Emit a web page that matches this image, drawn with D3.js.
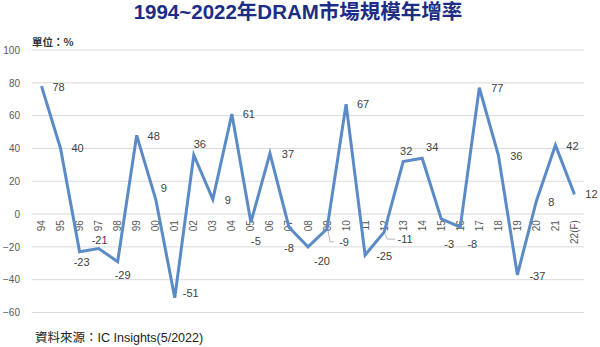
<!DOCTYPE html>
<html><head><meta charset="utf-8">
<script src="https://cdn.jsdelivr.net/npm/d3@7"></script>
<style>
html,body{margin:0;padding:0;background:#fff;}
svg{display:block;}
</style></head>
<body>
<svg id="c" width="600" height="347"></svg>
<script>
const years = ["94","95","96","97","98","99","00","01","02","03","04","05","06","07","08","09","10","11","12","13","14","15","16","17","18","19","20","21","22(F)"];
const growth = [78,40,-23,-21,-29,48,9,-51,36,9,61,-5,37,-8,-20,-9,67,-25,-11,32,34,-3,-8,77,36,-37,8,42,12];
const yTicks = [100,80,60,40,20,0,-20,-40,-60];
const titleText = "1994~2022年DRAM市場規模年增率";
const unitText = "單位：%";
const sourceText = "資料來源：IC Insights(5/2022)";
// label placement offsets (dx, dy) relative to the point, layout only
const labelOffsets = [[17,1],[17,0],[2,10],[1,-8],[5,14],[17,1],[8,-11],[16,-5],[6,-11],[15,1],[17,0],[5,19],[18,1],[0,21],[14,14],[17,13],[17,0],[19,1],[21,7],[3,-10],[10,-11],[8,25],[12,17],[18,0],[18,1],[20,1],[15,1],[17,1],[17,0]];
const leaders = {15:true, 18:true};

const svg = d3.select("#c");
const x = d3.scaleBand().domain(years).range([32,584]);
const y = d3.scaleLinear().domain([-60,100]).range([312.5,50]);
const cx = d => x(d) + x.bandwidth()/2;

// title
svg.append("text").attr("x",298).attr("y",19).attr("text-anchor","middle")
  .attr("font-family","'Liberation Sans','Noto Sans CJK TC',sans-serif").attr("font-weight","bold")
  .attr("font-size",20.5).attr("fill","#1c2d86").text(titleText);
svg.append("text").attr("x",32).attr("y",46)
  .attr("font-family","'Noto Sans CJK TC',sans-serif").attr("font-weight","bold")
  .attr("font-size",10.5).attr("fill","#333").text(unitText);

// grid
svg.append("g").selectAll("line").data(yTicks).join("line")
  .attr("x1",32).attr("x2",584).attr("y1",d=>y(d)).attr("y2",d=>y(d))
  .attr("stroke","#d9d9d9").attr("stroke-width",1);

// y axis
const ya = svg.append("g").attr("transform","translate(32,0)")
  .call(d3.axisLeft(y).tickValues(yTicks).tickSize(0).tickPadding(12).tickFormat(d3.format("d")));
ya.select(".domain").remove();
ya.selectAll("text").attr("font-family","'Liberation Sans',sans-serif").attr("font-size",10).attr("fill","#595959");

// x axis labels (rotated)
const xa = svg.append("g").attr("transform",`translate(0,${y(0)})`)
  .call(d3.axisBottom(x).tickSize(0).tickPadding(0));
xa.select(".domain").remove();
xa.selectAll(".tick text")
  .attr("transform","translate(0,6) rotate(-90)")
  .attr("text-anchor","end").attr("x",0).attr("y",0).attr("dy","0.35em")
  .attr("font-family","'Liberation Sans',sans-serif").attr("font-size",10).attr("fill","#595959");

// line
const line = d3.line().x((d,i)=>cx(years[i])).y(d=>y(d));
svg.append("path").datum(growth).attr("d",line).attr("fill","none")
  .attr("stroke","#5b8bc7").attr("stroke-width",3).attr("stroke-linejoin","miter");

// leader lines
growth.forEach((v,i)=>{
  if(!leaders[i]) return;
  const px = cx(years[i]), py = y(v);
  const [dx,dy] = labelOffsets[i];
  svg.append("polyline").attr("points",`${px+1},${py+2} ${px+3},${py+dy} ${px+dx-10},${py+dy}`)
    .attr("fill","none").attr("stroke","#a6a6a6").attr("stroke-width",0.8);
});

// labels
svg.append("g").selectAll("text").data(growth).join("text")
  .attr("x",(d,i)=>cx(years[i])+labelOffsets[i][0])
  .attr("y",(d,i)=>y(d)+labelOffsets[i][1])
  .attr("dy","0.35em").attr("text-anchor","middle")
  .attr("font-family","'Liberation Sans',sans-serif").attr("font-size",11).attr("fill","#404040")
  .text(d=>d);

// source
svg.append("text").attr("x",35).attr("y",342)
  .attr("font-family","'Liberation Sans','Noto Sans CJK TC',sans-serif")
  .attr("font-size",12.5).attr("fill","#222").text(sourceText);
</script>
</body></html>
